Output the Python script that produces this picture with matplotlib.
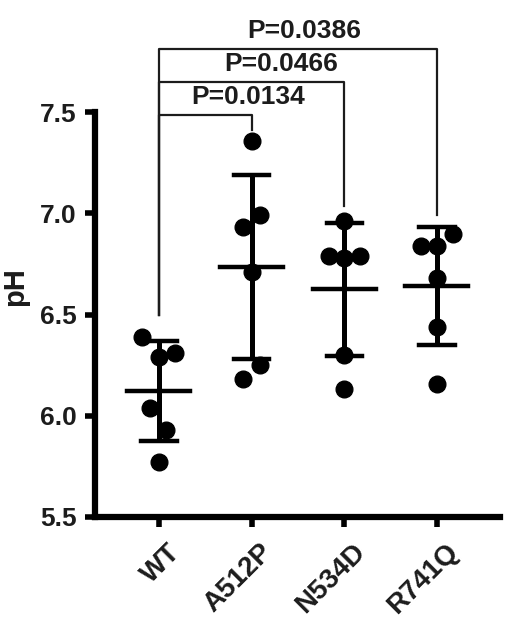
import numpy as np
import matplotlib.pyplot as plt
import matplotlib.transforms as mtransforms

plt.rcParams['font.family'] = ['Liberation Sans', 'DejaVu Sans']

groups = ['WT', 'A512P', 'N534D', 'R741Q']
wt = [6.39, 6.29, 6.31, 6.04, 5.93, 5.77]
a512p = [7.355, 6.99, 6.93, 6.71, 6.25, 6.18]
n534d = [6.96, 6.79, 6.78, 6.79, 6.30, 6.13]
r741q = [6.90, 6.84, 6.84, 6.68, 6.44, 6.155]
values = [wt, a512p, n534d, r741q]

# horizontal jitter of dots
offsets = [
    [-0.18, 0.0, 0.17, -0.10, 0.08, 0.0],
    [0.0, 0.09, -0.09, 0.0, 0.09, -0.09],
    [0.0, -0.17, 0.0, 0.17, 0.0, 0.0],
    [0.17, -0.17, 0.0, 0.0, 0.0, 0.0],
]

# comparisons: (group index, bracket top, right leg end, label)
comparisons = [
    (1, 7.485, 7.41, 'P=0.0134'),
    (2, 7.65, 7.035, 'P=0.0466'),
    (3, 7.81, 6.99, 'P=0.0386'),
]
wt_leg_end = 6.50
label_x = [0.96, 1.32, 1.57]

ink = '#1c1c1c'

fig = plt.figure(figsize=(5.06, 6.24), dpi=100)
ax = fig.add_axes([95 / 506, 1 - 517 / 624, 405 / 506, 405 / 624])

for i, vals in enumerate(values):
    vals = np.array(vals)
    x = i + np.array(offsets[i])
    m = vals.mean()
    sd = vals.std(ddof=1)
    ax.plot(x, vals, 'o', color='black', markersize=12, zorder=3, clip_on=False)
    ax.plot([i, i], [m - sd, m + sd], color='black', lw=3.6, zorder=4, solid_capstyle='butt')
    ax.plot([i - 0.19, i + 0.19], [m + sd, m + sd], color='black', lw=3.2, zorder=4)
    ax.plot([i - 0.19, i + 0.19], [m - sd, m - sd], color='black', lw=3.2, zorder=4)
    ax.plot([i - 0.34, i + 0.34], [m, m], color='black', lw=3.2, zorder=4)

for (j, top, leg, label), lx in zip(comparisons, label_x):
    ax.plot([0, 0, j, j], [wt_leg_end, top, top, leg], color=ink, lw=1.6,
            clip_on=False, zorder=2)
    ax.text(lx, top + 0.03, label, ha='center', va='bottom', fontsize=19,
            fontweight='bold', color=ink)

ax.set_xlim(-0.69, 3.68)
ax.set_ylim(5.5, 7.5)
ax.set_yticks([5.5, 6.0, 6.5, 7.0, 7.5])
ax.set_yticklabels(['5.5', '6.0', '6.5', '7.0', '7.5'])
ax.set_xticks(range(len(groups)))
ax.set_xticklabels(groups, rotation=45, ha='right', rotation_mode='anchor')

for s in ['top', 'right']:
    ax.spines[s].set_visible(False)
for s in ['left', 'bottom']:
    ax.spines[s].set_linewidth(4.5)
    ax.spines[s].set_color('black')

ax.tick_params(axis='both', width=4, length=7, color='black', labelsize=19,
               labelcolor=ink, pad=6)
shift = mtransforms.ScaledTranslation(8 / 100, -4 / 100, fig.dpi_scale_trans)
for lab in ax.get_xticklabels():
    lab.set_fontweight('bold')
    lab.set_fontsize(20)
    lab.set_transform(lab.get_transform() + shift)
for lab in ax.get_yticklabels():
    lab.set_fontweight('bold')

ax.set_ylabel('pH', fontsize=21, fontweight='bold', color=ink,
              va='center', ha='center')
ax.yaxis.set_label_coords(-0.198, 0.568)

fig.savefig('out.png', dpi=100)
